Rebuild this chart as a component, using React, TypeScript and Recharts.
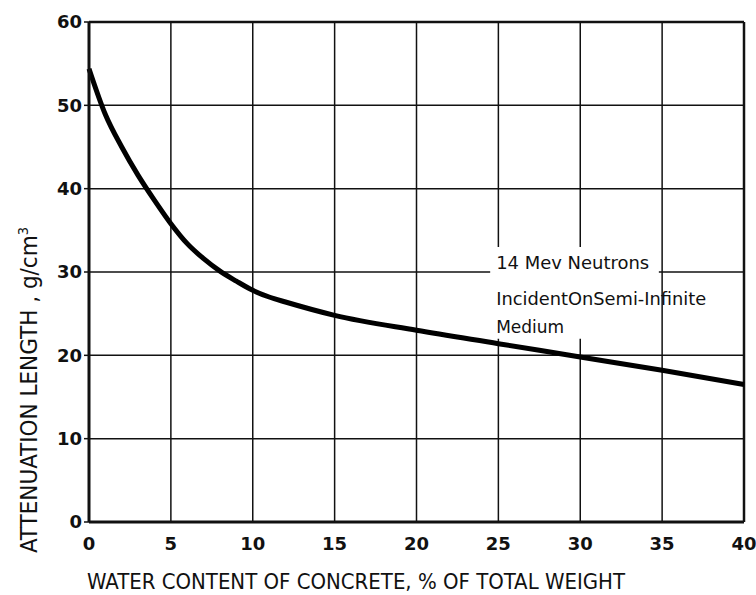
import { LineChart, Line, XAxis, YAxis, CartesianGrid, ReferenceArea, ReferenceLine, Label } from 'recharts';

// water content (% of total weight) and attenuation length (g/cm^3)
const waterContent = [0, 1, 2, 3, 4, 5, 6, 7, 8, 9, 10, 11, 12, 15, 20, 25, 30, 35, 40];
const attenuation = [54.4, 48.9, 45.0, 41.6, 38.6, 35.8, 33.4, 31.6, 30.1, 28.9, 27.8, 27.0, 26.4, 24.8, 23.0, 21.4, 19.8, 18.2, 16.5];

const xTicks = [0, 5, 10, 15, 20, 25, 30, 35, 40];
const yTicks = [0, 10, 20, 30, 40, 50, 60];
const noteLines = ['14 Mev Neutrons', 'IncidentOnSemi-Infinite', 'Medium'];

const data = waterContent.map((x, i) => ({ x, y: attenuation[i] }));

const FONT = '"DejaVu Sans Condensed", "Liberation Sans Narrow", sans-serif';
const TICK_FONT = '"DejaVu Sans", sans-serif';

export default function App() {
    // text block in the white box, like the original annotation
    const note = (props: any) => {
        const vb = props.viewBox || { x: 0, y: 0 };
        const baselines = [22, 58, 86];
        const widths = [153, 210, 68];
        return (
            <g fontFamily={FONT} fontSize={17} fill="#111">
                {noteLines.map((t, i) => (
                    <text
                        key={i}
                        x={vb.x + 6}
                        y={vb.y + baselines[i]}
                        textLength={widths[i]}
                        lengthAdjust="spacingAndGlyphs"
                    >
                        {t}
                    </text>
                ))}
            </g>
        );
    };

    const yLabel = () => (
        <text
            x={37}
            y={390}
            transform="rotate(-90 37 390)"
            textAnchor="middle"
            fontFamily={FONT}
            fontSize={23}
            fill="#111"
            textLength={326}
            lengthAdjust="spacingAndGlyphs"
        >
            ATTENUATION  LENGTH , g/cm<tspan dy={-9} fontSize={14}>3</tspan>
        </text>
    );

    const xLabel = () => (
        <text
            x={87}
            y={589}
            fontFamily={FONT}
            fontSize={22}
            fill="#111"
            textLength={538}
            lengthAdjust="spacingAndGlyphs"
        >
            WATER  CONTENT OF CONCRETE, % OF TOTAL WEIGHT
        </text>
    );

    return (
        <div style={{ position: 'absolute', top: 0, left: 0, background: '#fff', width: 756, height: 595 }}>
            <LineChart width={756} height={595} data={data} margin={{ top: 22, right: 12, bottom: 0, left: 0 }}>
                <CartesianGrid stroke="#111" strokeWidth={1.5} horizontalValues={yTicks} verticalValues={xTicks} />
                <XAxis
                    dataKey="x"
                    type="number"
                    domain={[0, 40]}
                    ticks={xTicks}
                    height={73}
                    tickLine={false}
                    axisLine={{ stroke: '#111', strokeWidth: 3 }}
                    tick={{ fill: '#111', fontSize: 18, fontFamily: TICK_FONT, fontWeight: 'bold' }}
                    tickMargin={9}
                    interval={0}
                >
                    <Label content={xLabel} />
                </XAxis>
                <YAxis
                    dataKey="y"
                    type="number"
                    domain={[0, 60]}
                    ticks={yTicks}
                    width={89}
                    tickSize={5}
                    tickLine={{ stroke: '#111', strokeWidth: 1.5 }}
                    axisLine={{ stroke: '#111', strokeWidth: 3 }}
                    tick={{ fill: '#111', fontSize: 18, fontFamily: TICK_FONT, fontWeight: 'bold' }}
                    interval={0}
                >
                    <Label content={yLabel} />
                </YAxis>
                <ReferenceLine y={60} stroke="#111" strokeWidth={2.5} />
                <ReferenceLine x={40} stroke="#111" strokeWidth={2.5} />
                <ReferenceArea x1={24.5} x2={34.8} y1={22} y2={33} fill="#fff" fillOpacity={1} stroke="none">
                    <Label content={note} />
                </ReferenceArea>
                <Line
                    dataKey="y"
                    type="monotone"
                    stroke="#000"
                    strokeWidth={5}
                    dot={false}
                    isAnimationActive={false}
                />
            </LineChart>
        </div>
    );
}
